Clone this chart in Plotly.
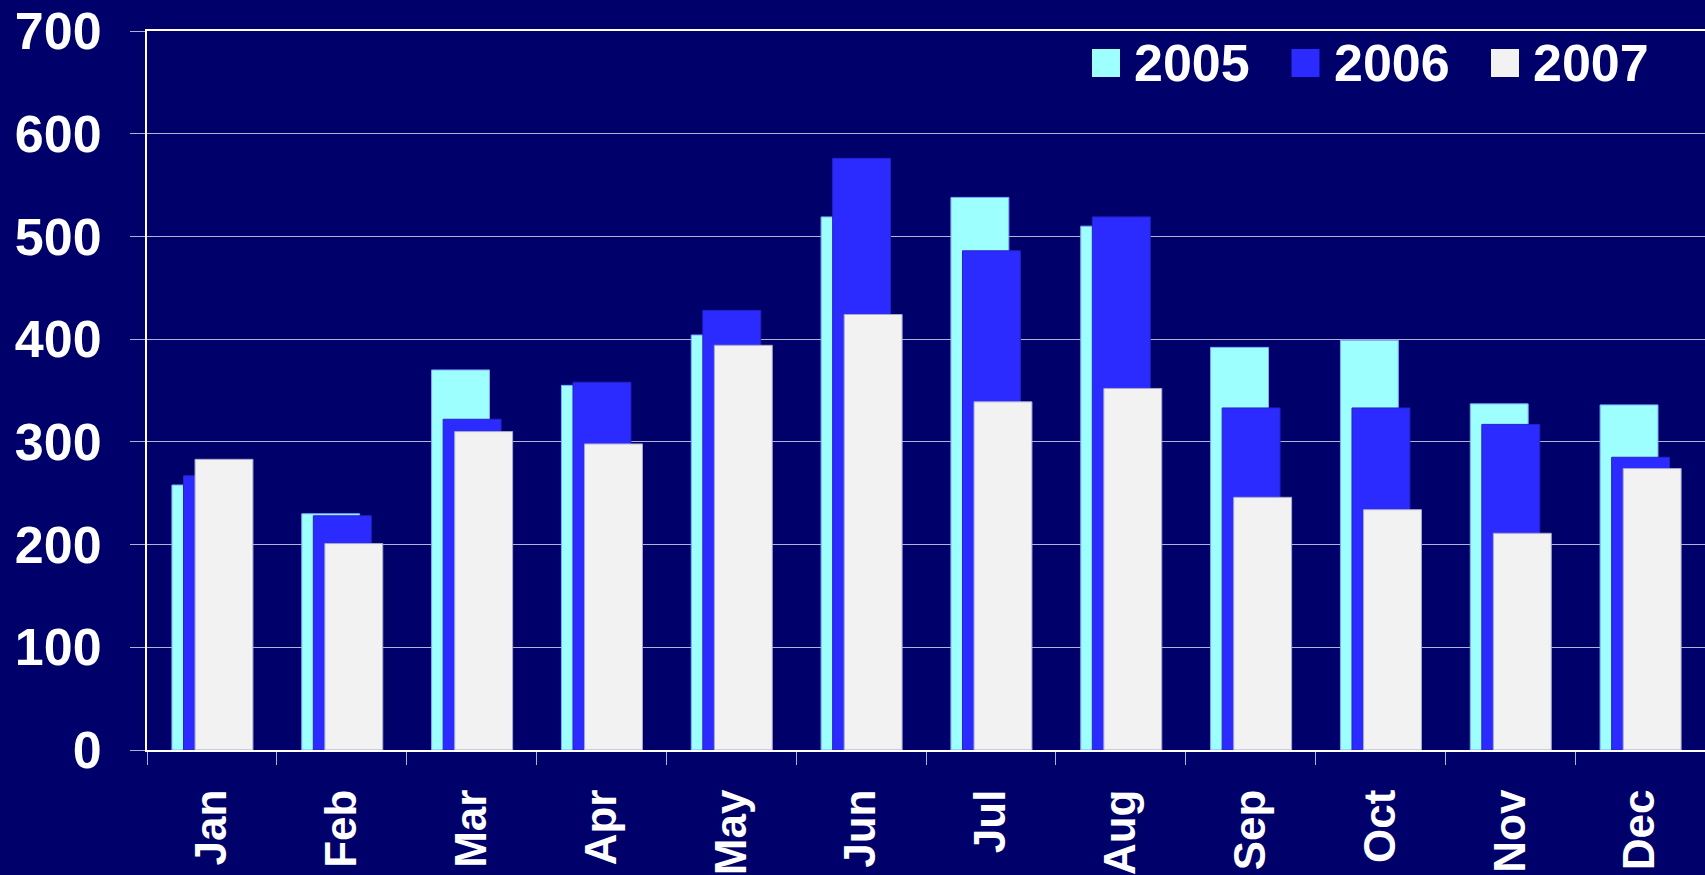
import plotly.graph_objects as go

months = ["Jan", "Feb", "Mar", "Apr", "May", "Jun", "Jul", "Aug", "Sep", "Oct", "Nov", "Dec"]
y2005 = [258, 230, 370, 355, 404, 519, 538, 510, 392, 399, 337, 336]
y2006 = [267, 228, 322, 358, 428, 576, 486, 519, 333, 333, 317, 285]
y2007 = [283, 201, 310, 298, 394, 424, 339, 352, 246, 234, 211, 274]
years = ["2005", "2006", "2007"]
colors = ["#9EFFFF", "#2B2BFF", "#F2F2F2"]
edges = ["#7FA8FF", "#2424C8", "#A8A8C8"]

BG = "#00006B"
W = 0.446
offsets = [-0.308, -0.219, -0.130]

FIG_W, FIG_H = 1705, 875
ML, MR, MT, MB = 147, 0, 31, 125
PW = FIG_W - ML - MR
PH = FIG_H - MT - MB


def px_x(p):
    return (p - ML) / PW


def px_y(p):
    return (FIG_H - MB - p) / PH


fig = go.Figure()
for name, vals, c, e, off in zip(years, [y2005, y2006, y2007], colors, edges, offsets):
    fig.add_trace(go.Bar(
        x=months, y=vals, name=name,
        marker=dict(color=c, line=dict(color=e, width=1)),
        width=W, offset=off, showlegend=False,
    ))

font = "Liberation Sans, Arial, sans-serif"

# custom legend (large square swatches like the original)
shapes = []
annotations = []
for i, (name, c) in enumerate(zip(years, colors)):
    sx = 1092 + i * 199.5
    shapes.append(dict(
        type="rect", xref="paper", yref="paper",
        x0=px_x(sx), x1=px_x(sx + 28), y0=px_y(77), y1=px_y(49),
        fillcolor=c, line=dict(width=0), layer="above",
    ))
    annotations.append(dict(
        xref="paper", yref="paper", x=px_x(sx + 40), y=px_y(63),
        xanchor="left", yanchor="middle", text=name, showarrow=False,
        font=dict(size=52, family=font, color="white", weight="bold"),
    ))

fig.update_layout(
    width=FIG_W, height=FIG_H,
    paper_bgcolor=BG, plot_bgcolor=BG,
    barmode="overlay",
    margin=dict(l=ML, r=MR, t=MT, b=MB, autoexpand=False),
    font=dict(family=font, color="white"),
    showlegend=False,
    shapes=shapes,
    annotations=annotations,
    xaxis=dict(
        type="category", range=[-0.5, 11.5],
        tickangle=-90, tickson="boundaries",
        ticks="outside", ticklen=13, tickcolor="#B0B0D0", tickwidth=1,
        tickfont=dict(size=44, family=font, color="white", weight="bold"),
        showline=True, linecolor="white", linewidth=2, mirror=True,
        showgrid=False, ticklabelstandoff=20, automargin=False,
    ),
    yaxis=dict(
        range=[0, 700], dtick=100, tick0=0,
        ticks="outside", ticklen=15, tickcolor="#B0B0D0", tickwidth=1,
        tickfont=dict(size=52, family=font, color="white", weight="bold"),
        showline=True, linecolor="white", linewidth=2, mirror=False,
        showgrid=True, gridcolor="rgba(255,255,255,0.7)", gridwidth=1,
        zeroline=False, ticklabelstandoff=18, automargin=False,
    ),
)

fig.write_html(
    "out.html",
    config={"displayModeBar": False},
    post_script="document.body.style.margin='0';document.body.style.overflow='hidden';",
)
